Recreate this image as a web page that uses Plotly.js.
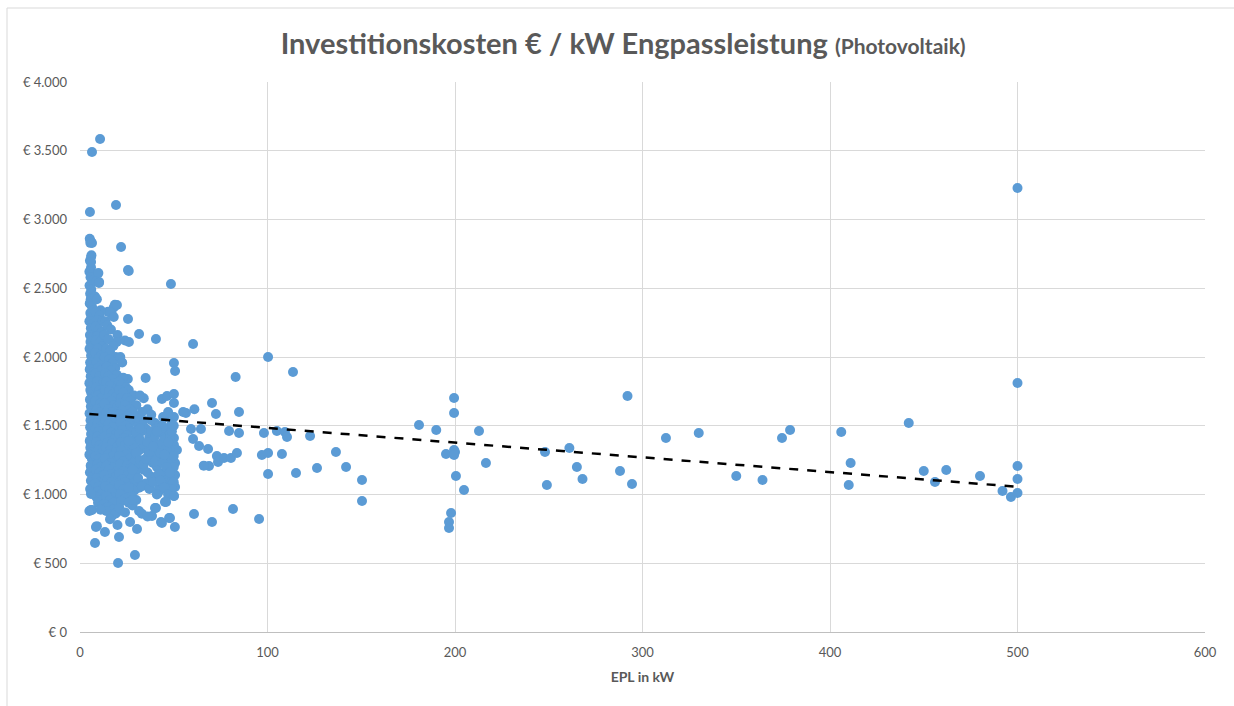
<!DOCTYPE html>
<html>
<head>
<meta charset="utf-8">
<script src="https://cdn.plot.ly/plotly-3.0.1.min.js"></script>
<style>html,body{margin:0;padding:0;background:#fff;}#chart{width:1234px;height:706px;}</style>
</head>
<body>
<div id="chart"></div>
<script>
// ---- data (EPL in kW, Investitionskosten in € / kW) ----
// dense column, x ≈ 5–8 kW
const colAX = [5.2,5.8,5.5,6.1,5.3,5.9,5.0,6.4,5.6,7.2,5.1,6.0,5.4,6.8,5.7,5.2,6.3,7.5,5.5,6.0,5.0,6.6,5.8,7.1,5.3,6.2,5.6,7.8,5.1,6.5,5.9,7.0,5.4,6.1,5.2,7.4,5.7,6.3,5.0,6.9,5.5,6.0,7.6,5.3,6.4,5.8,7.2,5.1,6.2,5.6,7.0,5.4,6.7,5.9,7.3,5.2,6.0,5.5,6.8,5.0,6.3,7.5,5.7,6.1,5.3,6.6,5.8,7.1,5.4,6.0];
const colAY = [2860,2840,2830,2740,2700,2650,2620,2600,2580,2560,2520,2490,2460,2440,2420,2390,2370,2340,2320,2290,2260,2240,2210,2190,2160,2140,2110,2090,2060,2040,2010,1990,1960,1940,1910,1890,1860,1840,1810,1790,1760,1740,1710,1690,1660,1640,1610,1590,1560,1540,1510,1490,1460,1440,1410,1390,1360,1340,1310,1290,1260,1240,1210,1190,1160,1130,1100,1070,1040,1010];
// x ≈ 8–12 kW
const colBX = [9.8,8.6,10.2,8.0,9.0,11.0,8.4,10.5,9.3,12.0,8.2,10.0,11.5,9.0,8.5,10.8,12.2,9.5,8.1,11.2,10.0,8.8,12.0,9.6,11.0,8.3,10.4,12.4,9.1,11.6,8.6,10.2,12.0,9.4,11.3,8.2,10.7,12.3,9.0,11.0,8.7,10.3,12.1,9.5,11.5,8.4,10.0,12.4,9.2,11.2,8.8,10.6,12.0,9.7,11.4,8.3,10.1,12.2,9.3,11.0,8.6,10.5,12.3,9.0,11.6,8.2,10.0,12.0,9.4,11.2,8.8,10.6,9.6,11.8];
const colBY = [2610,2550,2545,2440,2420,2340,2330,2300,2270,2260,2220,2200,2180,2150,2120,2110,2080,2060,2030,2010,1990,1960,1950,1920,1900,1880,1860,1840,1820,1800,1780,1760,1740,1720,1700,1680,1660,1640,1620,1600,1580,1560,1540,1520,1500,1480,1460,1440,1420,1400,1380,1360,1340,1320,1300,1280,1260,1240,1220,1200,1180,1160,1140,1120,1100,1080,1060,1040,1020,1000,980,960,940,920];
// x ≈ 12–20 kW
const colCX = [18.6,18.0,17.0,15.0,13.5,14.5,16.5,13.0,20.0,19.6,15.2,17.8,14.0,16.0,19.0,20.2,13.2,15.5,17.5,14.3,18.8,16.4,13.5,19.6,15.0,17.2,14.0,18.5,16.0,20.0,13.3,15.6,17.8,19.2,14.6,16.8,13.0,18.4,20.1,15.2,17.0,14.0,19.0,16.2,13.6,18.0,15.0,20.0,17.4,14.4,16.6,19.4,13.2,15.8,18.2,14.8,17.0,20.0,13.8,16.0,18.8,15.0,17.6,13.4,19.6,16.4,14.2,18.0,15.4,20.0,17.0,13.0,19.0,14.8,16.6,18.4,13.6,15.8,20.0,17.2,14.2,19.0,16.0,18.0,13.0,15.0,17.4,19.6,14.0,16.8,18.8];
const colCY = [2380,2360,2310,2330,2260,2230,2200,2160,2160,2110,2130,2080,2060,2040,2000,1990,2000,1980,1960,1930,1920,1900,1880,1870,1860,1840,1820,1810,1790,1780,1760,1750,1730,1710,1700,1680,1660,1650,1640,1620,1600,1590,1580,1560,1540,1530,1510,1500,1490,1470,1450,1440,1420,1410,1400,1380,1370,1350,1340,1320,1310,1290,1280,1260,1250,1230,1210,1200,1180,1170,1150,1140,1130,1110,1090,1070,1060,1040,1030,1010,990,980,960,940,930,910,890,870,880,840,860];
// x ≈ 20–32 kW
const colDX = [24.0,21.5,22.5,25.5,23.0,21.0,22.0,24.5,21.0,26.0,23.0,28.8,22.0,25.0,27.0,21.5,24.0,30.0,26.5,22.5,28.0,21.0,25.0,23.5,29.5,27.0,21.8,24.5,31.0,26.0,22.5,28.5,21.0,25.0,23.5,30.0,27.0,21.8,24.0,29.0,26.0,22.0,31.5,28.0,24.5,21.0,26.5,30.0,23.0,28.5,21.5,25.0,31.0,27.0,23.0,29.5,21.0,25.5,27.5,22.5,30.5,24.0,28.5,21.0,26.0,31.5,23.0,29.0,25.0,21.5,27.5,24.0,30.0,22.0,26.0,28.0,21.0,28,26,28,26];
const colDY = [2120,2000,1960,1840,1850,1820,1800,1780,1760,1760,1740,1720,1700,1700,1680,1660,1650,1650,1620,1610,1600,1580,1570,1550,1550,1530,1520,1500,1500,1480,1470,1460,1440,1430,1410,1410,1390,1380,1360,1350,1340,1320,1320,1300,1290,1280,1260,1260,1240,1230,1220,1210,1200,1190,1170,1160,1150,1140,1120,1110,1100,1090,1080,1070,1060,1050,1040,1030,1010,1000,990,970,960,950,940,920,900,1360,1390,1180,1050];
// x ≈ 30–52 kW
const colEX = [43.7,46.4,50.1,50.1,44.3,50.1,43.7,50.1,50.1,38.4,44.3,51.7,44.3,49.6,50.7,38.9,44.3,50.7,38.9,49.6,50.7,41.6,50.1,36,38,40,35,42,37,34,40,36,41,34,38,35,42,46,47,48,46,45,33,34,38,33,45,47,44,32,35,43,48,49,47,49,50,36,39,
  30,32,34,36,38,40,42,44,46,48,49,50,50,49.5,50,49,30,32,34,36,38,40,42,44,46,48,31,33,37,39,41,43,45,47,30,32,35,37,39,41,43,45,47];
const colEY = [1695,1716,1731,1665,1564,1564,1447,1411,1360,1375,1382,1324,1273,1273,1229,1229,1156,1142,1105,1069,1055,1011,989,1620,1580,1520,1480,1500,1420,1360,1300,1250,1200,1180,1130,1080,1040,1100,1250,1320,1480,1560,1600,1700,1540,1460,1400,1180,1040,1720,1847,1280,1440,1520,1600,1100,1200,1320,1360,
  1450,1400,1540,1380,1460,1420,1360,1500,1330,1410,1460,1500,1280,1150,1090,1040,1300,1250,1220,1160,1280,1240,1150,1230,1200,1160,1120,1060,1040,1090,1000,1100,1050,1000,1560,1480,1260,1310,1350,1460,1300,1290,1380];
// upper outliers near the cluster
const highX = [5.3,6.4,10.7,19.2,21.9,25.6,26.0,48.5,19.7,25.6,31.5,40.5,26.1,16.0,18.0,10.1,6.4,5.9,5.9,50.1,50.7,60.3];
const highY = [3055,3491,3585,3105,2800,2633,2625,2531,2378,2276,2167,2131,2109,2327,2291,2538,2829,2727,2691,1956,1898,2095];
// low values
const lowX = [5.0,5.8,6.4,8.5,13.3,8.0,20.8,20.0,26.7,30.4,29.3,20.3,31.5,38.4,40.5,43.2,47.5,50.6,45.3,29.3,5.9,9.0,33,36,43.7,48.0,40.0,45.9,50.1,11.0,16.0,24.0,28.0];
const lowY = [880,887,887,764,727,647,691,778,800,749,560,502,880,844,902,800,829,764,945,960,1004,770,860,840,793,829,902,945,989,890,820,870,960];
// 55–155 kW
const midX = [83.0,100.3,113.6,70.4,72.5,84.8,56.5,59.2,64.5,79.5,84.8,98.1,105.0,109.3,110.4,122.7,60.3,63.5,68.3,73.0,73.6,76.8,80.5,83.7,97.0,100.3,107.7,136.5,68.8,100.3,115.2,126.4,141.9,150.4,150.4,60.8,81.6,70.4,95.5,55.0,61.0,66.0];
const midY = [1855,2000,1891,1665,1585,1600,1593,1476,1476,1462,1447,1447,1462,1455,1418,1425,1404,1353,1331,1280,1236,1265,1265,1302,1287,1302,1295,1309,1207,1149,1156,1193,1200,1105,953,858,895,800,822,1600,1620,1210];
// 175–500 kW
const farX = [199.5,199.5,180.8,190.0,212.8,195.2,199.5,200.0,199.5,216.5,200.5,204.8,197.9,196.8,196.8,248,249,261,265,268,288,294.4,292,312.5,330,350,364,374.4,378.7,406,411,410,442,450,456,462,480,492,496.5,500,500,500,500,500];
const farY = [1702,1593,1505,1469,1462,1295,1324,1309,1287,1229,1135,1033,865,800,756,1309,1069,1338,1200,1113,1171,1076,1716,1411,1447,1135,1105,1411,1469,1455,1229,1069,1520,1171,1091,1178,1135,1025,982,3229,1811,1207,1113,1011];
// linear trend line (Excel "Trendlinie")
const trendX = [5, 500];
const trendY = [1586, 1056];

const allX = [].concat(colAX, colBX, colCX, colDX, colEX, highX, lowX, midX, farX);
const allY = [].concat(colAY, colBY, colCY, colDY, colEY, highY, lowY, midY, farY);

const FONT = 'Lato, "Open Sans", sans-serif';
const GRAY = '#595959';

const traces = [
  {x: allX, y: allY, type: 'scatter', mode: 'markers',
   marker: {color: '#5B9BD5', size: 10, line: {width: 0}},
   hoverinfo: 'x+y', showlegend: false},
  {x: trendX, y: trendY, type: 'scatter', mode: 'lines',
   line: {color: '#000000', width: 2.5, dash: 'dash'},
   hoverinfo: 'skip', showlegend: false}
];

const layout = {
  width: 1234, height: 706,
  margin: {l: 80, r: 29, t: 82, b: 74, pad: 0},
  paper_bgcolor: '#ffffff', plot_bgcolor: '#ffffff',
  separators: ',.',
  font: {family: FONT, color: GRAY, size: 12},
  title: {
    text: '<b>Investitionskosten € / kW Engpassleistung <span style="font-size:21px">(Photovoltaik)</span></b>',
    font: {family: FONT, size: 29, color: GRAY},
    x: 0.505, xanchor: 'center', y: 0.938, yanchor: 'middle'
  },
  xaxis: {
    range: [0, 600], dtick: 100, tick0: 0, fixedrange: true,
    showgrid: true, gridcolor: '#D9D9D9', gridwidth: 1,
    zeroline: false, showline: true, linecolor: '#BFBFBF', linewidth: 1,
    ticks: '', ticklabelstandoff: 8,
    tickfont: {family: FONT, size: 13, color: GRAY},
    title: {text: '<b>EPL in kW</b>', font: {family: FONT, size: 14, color: GRAY}, standoff: 13}
  },
  yaxis: {
    range: [0, 4000], dtick: 500, tick0: 0, fixedrange: true,
    showgrid: true, gridcolor: '#D9D9D9', gridwidth: 1,
    zeroline: false, showline: false,
    ticks: '', tickprefix: '€ ', tickformat: ',d', ticklabelstandoff: 12,
    tickfont: {family: FONT, size: 13, color: GRAY}
  },
  shapes: [
    {type: 'rect', xref: 'paper', yref: 'paper',
     x0: (7 - 80) / 1125, x1: (1240 - 80) / 1125,
     y0: (632 - 712) / 550, y1: (632 - 8) / 550,
     line: {color: '#D9D9D9', width: 1}, fillcolor: 'rgba(0,0,0,0)', layer: 'below'}
  ]
};

Plotly.newPlot('chart', traces, layout, {displayModeBar: false, staticPlot: true});
</script>
</body>
</html>
